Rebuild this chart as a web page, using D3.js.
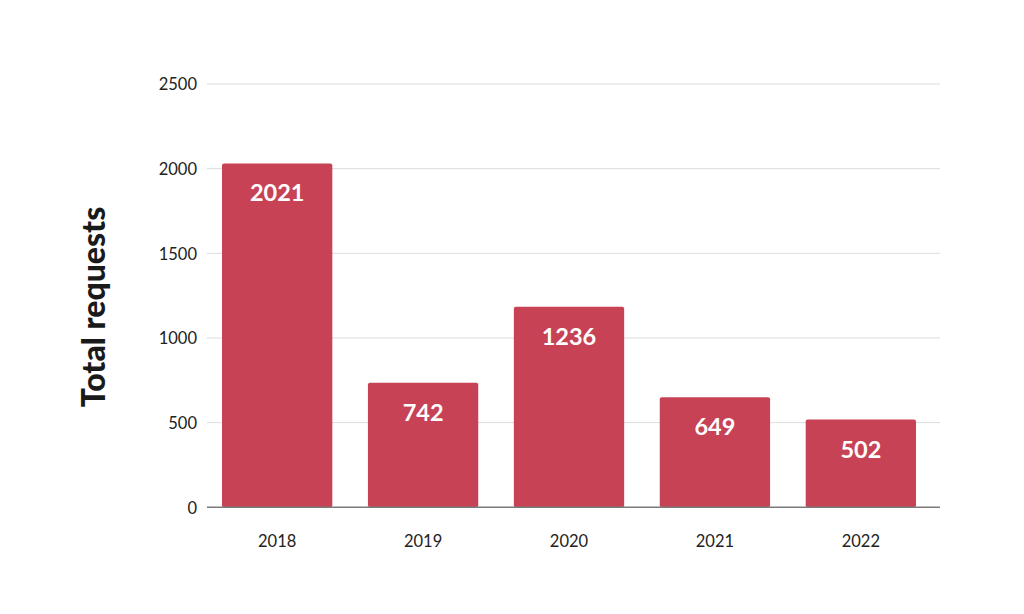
<!DOCTYPE html>
<html><head><meta charset="utf-8">
<script src="https://cdn.jsdelivr.net/npm/d3@7"></script>
<style>body{margin:0;background:#fff;} svg{display:block;}</style>
</head><body><div id="chart"></div>
<script>
const categories = ["2018","2019","2020","2021","2022"];
const barValues = [2031, 736, 1184, 650, 518];
const barLabels = ["2021","742","1236","649","502"];
const yTicks = [0,500,1000,1500,2000,2500];

const W=1024,H=614;
const svg=d3.select("#chart").append("svg").attr("width",W).attr("height",H);
const y=d3.scaleLinear().domain([0,2500]).range([507.3,84]);
const x=d3.scaleBand().domain(categories).range([222,916]).paddingInner(0.244).paddingOuter(0);
const gx0=207,gx1=940;
const font="Lato, 'Open Sans', sans-serif";

const yAxis=d3.axisLeft(y).tickValues(yTicks).tickSize(0).tickPadding(10).tickFormat(d3.format("d"));
const ga=svg.append("g").attr("transform",`translate(${gx0},0)`).call(yAxis);
ga.select(".domain").remove();
ga.selectAll("text").attr("font-family",font).attr("font-size",16.5).attr("fill","#222").attr("dy","0.35em");

svg.append("g").selectAll("line").data(yTicks.filter(d=>d>0)).join("line")
  .attr("x1",gx0).attr("x2",gx1).attr("y1",d=>y(d)).attr("y2",d=>y(d))
  .attr("stroke","#dcdcdc").attr("stroke-width",1);

svg.append("g").selectAll("rect").data(categories).join("rect")
  .attr("x",d=>x(d)).attr("width",x.bandwidth())
  .attr("y",(d,i)=>y(barValues[i])).attr("height",(d,i)=>y(0)-y(barValues[i]))
  .attr("rx",2).attr("fill","#c84255");

svg.append("line").attr("x1",gx0).attr("x2",gx1).attr("y1",y(0)).attr("y2",y(0))
  .attr("stroke","#7a7a7a").attr("stroke-width",1.5);

svg.append("g").selectAll("text").data(categories).join("text")
  .attr("x",d=>x(d)+x.bandwidth()/2).attr("y",(d,i)=>y(barValues[i])+32)
  .attr("text-anchor","middle").attr("dominant-baseline","middle")
  .attr("font-family",font).attr("font-weight",700).attr("font-size",23.5).attr("fill","#fff")
  .text((d,i)=>barLabels[i]);

const xAxis=d3.axisBottom(x).tickSize(0).tickPadding(0);
const gb=svg.append("g").attr("transform",`translate(0,${y(0)})`).call(xAxis);
gb.select(".domain").remove();
gb.selectAll("text").attr("font-family",font).attr("font-size",16.5).attr("fill","#222")
  .attr("dy",0).attr("y",36).attr("dominant-baseline","middle");

svg.append("text").attr("transform","translate(97,307) rotate(-90)")
  .attr("text-anchor","middle").attr("dominant-baseline","middle")
  .attr("font-family",font).attr("font-weight",900).attr("font-size",32).attr("fill","#1a1a1a")
  .text("Total requests");
</script></body></html>
